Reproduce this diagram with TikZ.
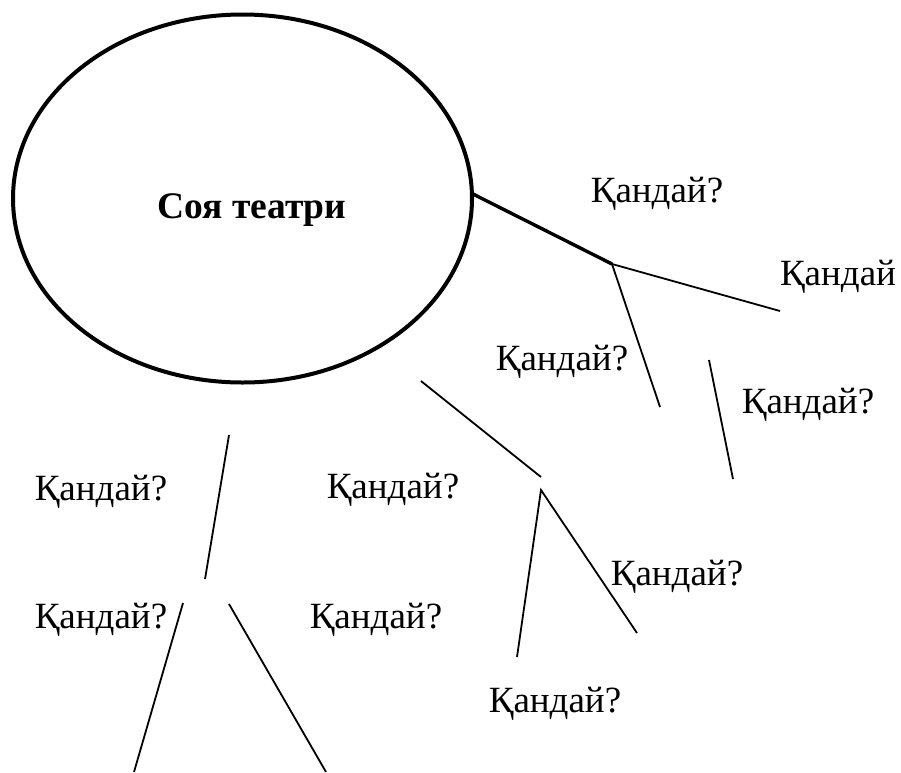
\documentclass[tikz,border=0pt]{standalone}
\usepackage{fontspec}
\setmainfont{Liberation Serif}
\usetikzlibrary{shapes.geometric}
\begin{document}
\begin{tikzpicture}[x=1pt,y=-1pt,
  lbl/.style={anchor=base, inner sep=0pt, font=\fontsize{37}{40}\selectfont},
  thinline/.style={line width=1.8pt},
  thickline/.style={line width=3.4pt},
  bigoval/.style={draw, ellipse, line width=4pt, minimum width=459pt, minimum height=368pt, inner sep=0pt}]
\useasboundingbox (0,0) rectangle (901,772);
% central oval
\node[bigoval] (ell) at (242.5,198.5) {};
\node[lbl, font=\fontsize{37.5}{40}\selectfont\bfseries] (title) at (252,218) {Соя театри};
% labels
\node[lbl] (q1) at (657,202) {Қандай?};
\node[lbl] (q2) at (838,285) {Қандай};
\node[lbl] (q3) at (562,370) {Қандай?};
\node[lbl] (q4) at (808,413) {Қандай?};
\node[lbl] (q5) at (101,500) {Қандай?};
\node[lbl] (q6) at (393,498) {Қандай?};
\node[lbl] (q7) at (677,585) {Қандай?};
\node[lbl] (q8) at (101,628) {Қандай?};
\node[lbl] (q9) at (376,628) {Қандай?};
\node[lbl] (q10) at (555,712) {Қандай?};
% connector points
\coordinate (s0) at (471,193);
\coordinate (j1) at (612,264);
\coordinate (e1) at (780,311);
\coordinate (e2) at (660,407);
\coordinate (a3) at (709,360);
\coordinate (e3) at (733,479);
\coordinate (a4) at (421,381);
\coordinate (e4) at (541,477);
\coordinate (j5) at (541,490);
\coordinate (e5a) at (517,657);
\coordinate (e5b) at (637,633);
\coordinate (a6) at (229,435);
\coordinate (e6) at (205,579);
\coordinate (a7) at (183,603);
\coordinate (e7) at (134,772);
\coordinate (a8) at (229,604);
\coordinate (e8) at (326,772);
% connectors
\draw[thickline] (s0) -- (j1);
\draw[thinline] (j1) -- (e1);
\draw[thinline] (j1) -- (e2);
\draw[thinline] (a3) -- (e3);
\draw[thinline] (a4) -- (e4);
\draw[thinline] (e5a) -- (j5) -- (e5b);
\draw[thinline] (a6) -- (e6);
\draw[thinline] (a7) -- (e7);
\draw[thinline] (a8) -- (e8);
\end{tikzpicture}
\end{document}
